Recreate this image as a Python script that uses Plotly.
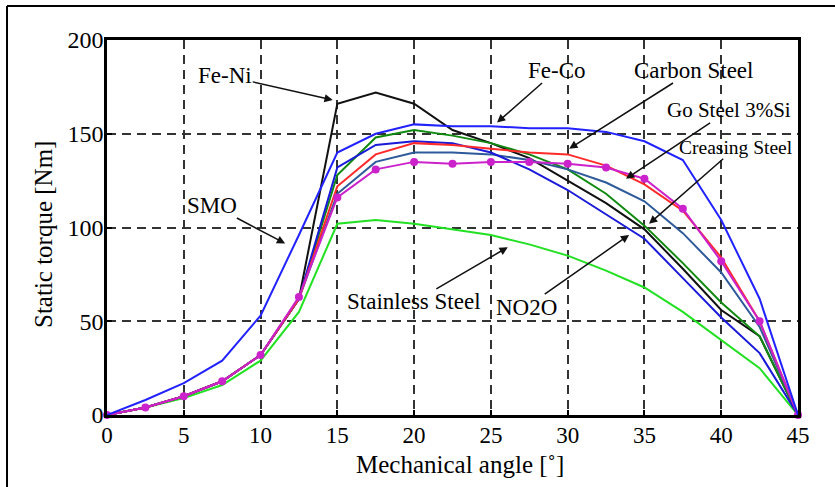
import plotly.graph_objects as go

angle = [0, 2.5, 5, 7.5, 10, 12.5, 15, 17.5, 20, 22.5, 25, 27.5, 30, 32.5, 35, 37.5, 40, 42.5, 45]

fe_ni = [0, 4, 10, 18, 32, 62, 166, 172, 166, 152, 145, 137, 125, 113, 99, 78, 56, 42, 0]
fe_co = [0, 8, 17, 29, 53, 96, 140, 150, 155, 154, 154, 153, 153, 151, 146, 136, 104, 62, 0]
no2o = [0, 4, 10, 18, 32, 62, 132, 144, 146, 145, 140, 131, 120, 107, 94, 73, 52, 33, 0]
carbon = [0, 4, 10, 18, 32, 62, 122, 139, 145, 144, 142, 140, 139, 133, 123, 109, 84, 50, 0]
go_steel = [0, 4, 10, 18, 32, 63, 116, 131, 135, 134, 135, 135, 134, 132, 126, 110, 82, 50, 0]
steel_blue = [0, 4, 10, 18, 32, 62, 118, 135, 140, 140, 139, 136, 131, 124, 114, 97, 76, 47, 0]
creasing = [0, 4, 10, 18, 32, 62, 128, 148, 152, 149, 145, 139, 131, 118, 101, 81, 60, 42, 0]
stainless = [0, 4, 9, 16, 29, 55, 102, 104, 102, 99, 96, 91, 85, 77, 68, 55, 40, 25, 0]

series = [
    ("Stainless Steel", stainless, "#22e022", None),
    ("Fe-Ni", fe_ni, "#111111", None),
    ("Creasing Steel", creasing, "#108a10", None),
    ("Steel", steel_blue, "#2f5a9a", None),
    ("NO2O", no2o, "#1a1ad8", None),
    ("Carbon Steel", carbon, "#ff2a2a", None),
    ("Go Steel 3%Si", go_steel, "#cc22cc", "circle"),
    ("Fe-Co", fe_co, "#2222ff", None),
]

FONT = "Liberation Serif, Times New Roman, serif"
fig = go.Figure()
for name, vals, col, mk in series:
    fig.add_trace(go.Scatter(
        x=angle, y=vals, name=name, mode="lines+markers" if mk else "lines",
        line=dict(color=col, width=2),
        marker=dict(symbol="circle", size=8, color=col) if mk else None,
        cliponaxis=False, showlegend=False))

labels = [
    # text, tip x, tip y, text x, text y, font size
    ("Fe-Ni", 14.7, 168, 7.7, 181, 23),
    ("Fe-Co", 25.4, 156, 29.3, 184, 23),
    ("Carbon Steel", 30.1, 142, 38.2, 184, 23),
    ("Go Steel 3%Si", 33.8, 126, 40.5, 162.5, 21),
    ("Creasing Steel", 35.3, 102, 40.95, 142.5, 19.5),
    ("NO2O", 34.0, 96, 27.3, 57.5, 23),
    ("Stainless Steel", 26.1, 89.5, 20.0, 60.3, 23),
    ("SMO", 11.6, 91.5, 6.85, 112, 23),
]
ann = []
for t, x, y, tx, ty, fs in labels:
    ann.append(dict(x=x, y=y, xref="x", yref="y", ax=tx, ay=ty, axref="x", ayref="y",
                    text=t, showarrow=True, arrowhead=2, arrowsize=1.1, arrowwidth=1.5,
                    arrowcolor="#111111", borderpad=0,
                    font=dict(family=FONT, size=fs, color="black")))
ann.append(dict(x=0.511, y=-0.133, xref="paper", yref="paper", showarrow=False,
                text="Mechanical angle [˚]", font=dict(family=FONT, size=25, color="black"),
                xanchor="center", yanchor="middle"))
ann.append(dict(x=-0.0926, y=0.48, xref="paper", yref="paper", showarrow=False,
                text="Static torque [Nm]", textangle=-90,
                font=dict(family=FONT, size=25, color="black"),
                xanchor="center", yanchor="middle"))

axis_common = dict(
    showline=True, linewidth=2.5, linecolor="black", mirror=True,
    showgrid=True, gridcolor="#333333", gridwidth=2, griddash="9px,6px",
    ticks="inside", ticklen=5, tickwidth=1.5, tickcolor="black",
    zeroline=False,
)
fig.update_xaxes(range=[0, 45], tickvals=[0, 5, 10, 15, 20, 25, 30, 35, 40, 45],
                 ticklabelstandoff=-2, tickfont=dict(family=FONT, size=23, color="black"),
                 **axis_common)
fig.update_yaxes(range=[0, 200], tickvals=[0, 50, 100, 150, 200], ticklabelstandoff=-4,
                 tickfont=dict(family=FONT, size=24, color="black"), **axis_common)

shapes = [
    dict(type="line", xref="paper", yref="paper", x0=-0.1447, x1=-0.1447, y0=-0.3, y1=1.0907,
         line=dict(color="black", width=2)),
    dict(type="line", xref="paper", yref="paper", x0=-0.1447, x1=1.1, y0=1.0907, y1=1.0907,
         line=dict(color="black", width=2)),
]

fig.update_layout(
    width=835, height=487,
    margin=dict(l=107, r=37, t=40, b=72),
    paper_bgcolor="white", plot_bgcolor="white",
    annotations=ann, shapes=shapes,
    font=dict(family=FONT, color="black"),
)
fig.write_html("out.html")
